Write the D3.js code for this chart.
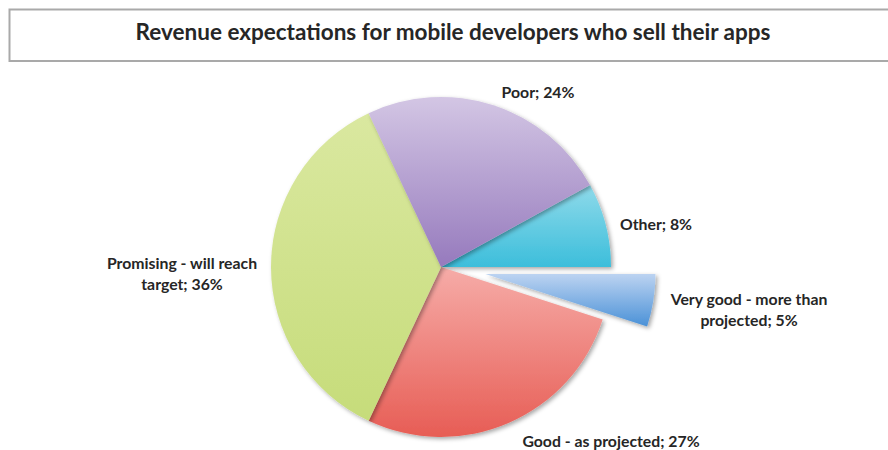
<!DOCTYPE html>
<html>
<head>
<meta charset="utf-8">
<script src="https://cdn.jsdelivr.net/npm/d3@7"></script>
<style>
  html, body { margin: 0; padding: 0; background: #fff; }
  svg { display: block; }
  text { font-family: Lato, "Open Sans", sans-serif; fill: #262626; }
</style>
</head>
<body>
<svg id="chart" width="888" height="450"></svg>
<script>
// Survey shares, in the order the slices run clockwise
const categories = ["Other", "Very good - more than projected", "Good - as projected", "Promising - will reach target", "Poor"];
const shares = [8, 5, 27, 36, 24];
const title = "Revenue expectations for mobile developers who sell their apps";

// Slice fills: light top / darker bottom of each gradient
const fillTop    = ["#8fdaea", "#bcd3f1", "#f6aca8", "#dae8a0", "#d3c6e4"];
const fillBottom = ["#3cbedb", "#4a91d7", "#e75d55", "#c6dc7a", "#967abd"];

const cx = 441, cy = 267, radius = 170;
const explodeName = "Very good - more than projected";
const explodeBy = 45;

const svg = d3.select("#chart");
const defs = svg.append("defs");

const shadow = defs.append("filter").attr("id", "shadow")
  .attr("x", "-20%").attr("y", "-20%").attr("width", "140%").attr("height", "140%");
shadow.append("feDropShadow")
  .attr("dx", 2).attr("dy", 2).attr("stdDeviation", 2)
  .attr("flood-color", "#000").attr("flood-opacity", 0.35);

categories.forEach((c, i) => {
  const g = defs.append("linearGradient").attr("id", "grad" + i)
    .attr("x1", 0).attr("y1", 0).attr("x2", 0).attr("y2", 1);
  g.append("stop").attr("offset", "0%").attr("stop-color", fillTop[i]);
  g.append("stop").attr("offset", "100%").attr("stop-color", fillBottom[i]);
});

// Title box (runs on past the right edge of the canvas)
svg.append("rect")
  .attr("x", 9.5).attr("y", 9.5).attr("width", 888).attr("height", 51.5)
  .attr("fill", "#fff").attr("stroke", "#a9a9a9").attr("stroke-width", 2);
svg.append("text")
  .attr("x", 453).attr("y", 40)
  .attr("text-anchor", "middle")
  .style("font-size", "22.5px").style("font-weight", 700)
  .text(title);

// Pie, first slice starting a little after 2 o'clock
const start = 61.2 * Math.PI / 180;
const pie = d3.pie().sort(null).value(d => d.value)
  .startAngle(start).endAngle(start + 2 * Math.PI);
const data = categories.map((c, i) => ({ name: c, value: shares[i], i }));
const arcs = pie(data);
const arc = d3.arc().innerRadius(0).outerRadius(radius);

const gPie = svg.append("g").attr("transform", `translate(${cx},${cy})`);
gPie.selectAll("path")
  .data(arcs)
  .join("path")
  .attr("d", arc)
  .attr("fill", d => `url(#grad${d.data.i})`)
  .attr("filter", "url(#shadow)")
  .attr("transform", d => {
    if (d.data.name !== explodeName) return null;
    const a = (d.startAngle + d.endAngle) / 2;
    return `translate(${explodeBy * Math.sin(a)},${-explodeBy * Math.cos(a)})`;
  });

// Data labels: "Category; value%"
const labelPos = {
  "Poor": { x: 538, y: 91, wrap: 220 },
  "Other": { x: 656, y: 223, wrap: 220 },
  "Promising - will reach target": { x: 182, y: 262, wrap: 170 },
  "Very good - more than projected": { x: 749, y: 298, wrap: 170 },
  "Good - as projected": { x: 611, y: 440, wrap: 240 }
};
const lineH = 21;

arcs.forEach(d => {
  const p = labelPos[d.data.name];
  const full = `${d.data.name}; ${d.data.value}%`;
  const t = svg.append("text")
    .attr("text-anchor", "middle").attr("dominant-baseline", "central")
    .style("font-size", "15.8px").style("font-weight", 700);
  // greedy word wrap
  const words = full.split(" ");
  const lines = [];
  let cur = "";
  const probe = t.append("tspan");
  words.forEach(w => {
    const test = cur ? cur + " " + w : w;
    probe.text(test);
    if (probe.node().getComputedTextLength() > p.wrap && cur) {
      lines.push(cur); cur = w;
    } else cur = test;
  });
  lines.push(cur);
  probe.remove();
  lines.forEach((ln, k) => {
    t.append("tspan").attr("x", p.x).attr("y", p.y + k * lineH).text(ln);
  });
});
</script>
</body>
</html>
